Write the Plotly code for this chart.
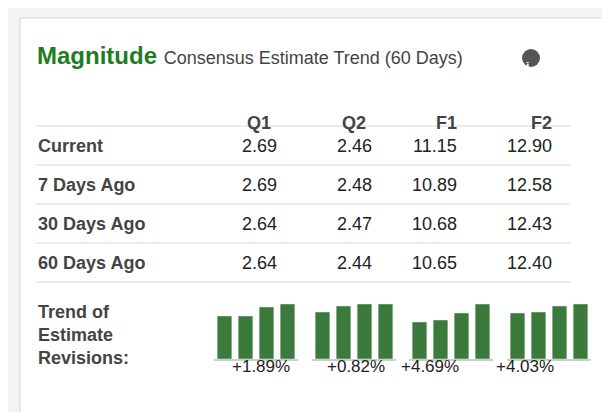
import plotly.graph_objects as go

W, H = 610, 412
columns = ["Q1", "Q2", "F1", "F2"]
row_labels = ["Current", "7 Days Ago", "30 Days Ago", "60 Days Ago"]
values = [
    ["2.69", "2.46", "11.15", "12.90"],
    ["2.69", "2.48", "10.89", "12.58"],
    ["2.64", "2.47", "10.68", "12.43"],
    ["2.64", "2.44", "10.65", "12.40"],
]
# relative bar heights (60d, 30d, 7d, current)
trend_heights = [
    [43, 43, 52, 55],
    [47, 53, 55, 55],
    [37, 39, 46, 55],
    [46, 47, 53, 55],
]
trend_pct = ["+1.89%", "+0.82%", "+4.69%", "+4.03%"]

def px(x): return x / W
def py(y): return 1 - y / H

col_x = [251, 346, 451, 546]
row_y = [138, 177, 216, 255]
bar_x = [(209, 287), (307, 385), (404, 482), (502, 580)]
FONT = "Liberation Sans, Arial, sans-serif"
green = "#3b7a3b"

fig = go.Figure()
ann = []
shapes = [dict(type="rect", xref="paper", yref="paper", x0=px(12), x1=px(598), y0=py(408), y1=py(10),
               line=dict(color="#d6d6d6", width=1), fillcolor="white", layer="below")]

def A(**kw):
    kw.setdefault("xref", "paper"); kw.setdefault("yref", "paper"); kw.setdefault("showarrow", False)
    ann.append(kw)

for i, (x0, x1) in enumerate(bar_x):
    xa = "xaxis" if i == 0 else f"xaxis{i+1}"
    ya = "yaxis" if i == 0 else f"yaxis{i+1}"
    fig.add_trace(go.Bar(x=["a", "b", "c", "d"], y=trend_heights[i], marker_color=green,
                         xaxis="x" if i == 0 else f"x{i+1}", yaxis="y" if i == 0 else f"y{i+1}",
                         hoverinfo="skip", showlegend=False))
    fig.layout[xa] = dict(domain=[px(x0 - 3), px(x1 + 3)], visible=False, anchor="y" if i == 0 else f"y{i+1}")
    fig.layout[ya] = dict(domain=[py(351), py(296)], range=[0, 55], visible=False, anchor="x" if i == 0 else f"x{i+1}")
    shapes.append(dict(type="line", xref="paper", yref="paper", x0=px(x0 - 3), x1=px(x1 + 3),
                       y0=py(352), y1=py(352), line=dict(color="#999", width=1)))
    A(x=px(col_x[i] + 2), y=py(370), text=trend_pct[i], font=dict(size=17, color="#222", family=FONT))

A(x=px(27), y=py(48), xanchor="left", yanchor="middle",
  text="<b>Magnitude</b> <span style='font-size:18px;color:#444'>Consensus Estimate Trend (60 Days)</span>",
  font=dict(size=24, color="#1e7d1e", family=FONT))
shapes.append(dict(type="circle", xref="paper", yref="paper", x0=px(514), x1=px(532), y0=py(59), y1=py(41),
                   fillcolor="#555", line=dict(width=0)))
A(x=px(523), y=py(50), text="<b>i</b>", font=dict(size=12, color="white", family=FONT))

for j, c in enumerate(columns):
    A(x=px(col_x[j]), y=py(103), text=f"<b>{c}</b>", font=dict(size=18, color="#444", family=FONT))
for r, lab in enumerate(row_labels):
    A(x=px(28), y=py(row_y[r]), xanchor="left", text=f"<b>{lab}</b>", font=dict(size=18, color="#444", family=FONT))
    for j in range(4):
        A(x=px(col_x[j]), y=py(row_y[r]), text=values[r][j], font=dict(size=18, color="#222", family=FONT))
for ly in [118, 157, 196, 235, 274]:
    shapes.append(dict(type="line", xref="paper", yref="paper", x0=px(28), x1=px(563), y0=py(ly), y1=py(ly),
                       line=dict(color="#d8d8d8", width=1)))
for k, t in enumerate(["Trend of", "Estimate", "Revisions:"]):
    A(x=px(28), y=py(316 + 23 * k), xanchor="left", text=f"<b>{t}</b>", font=dict(size=18, color="#444", family=FONT))

fig.update_layout(width=W, height=H, margin=dict(l=0, r=0, t=0, b=0), paper_bgcolor="#f4f4f4",
                  plot_bgcolor="rgba(0,0,0,0)", bargap=0.3, annotations=ann, shapes=shapes)
fig.write_html("out.html", config={"displayModeBar": False})
